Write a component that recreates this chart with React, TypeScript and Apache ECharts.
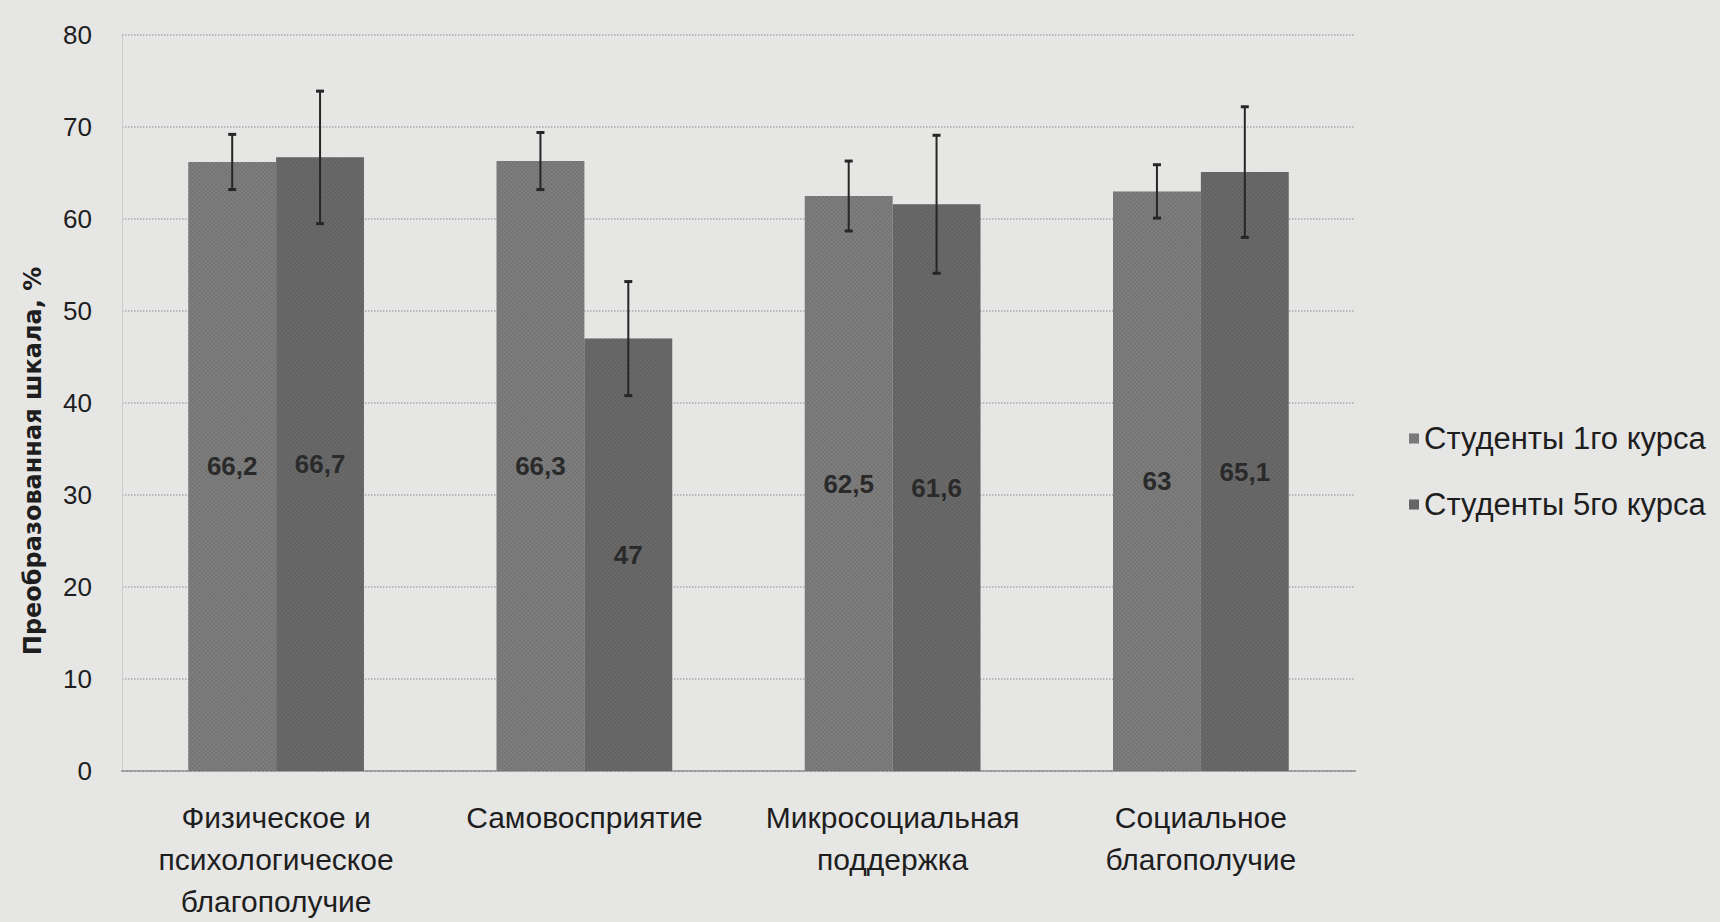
import React, { useEffect, useRef } from "react";
import * as echarts from "echarts";

const categories = [
  "Физическое и\nпсихологическое\nблагополучие",
  "Самовосприятие",
  "Микросоциальная\nподдержка",
  "Социальное\nблагополучие",
];
const seriesNames = ["Студенты 1го курса", "Студенты 5го курса"];
const course1 = [66.2, 66.3, 62.5, 63];
const course5 = [66.7, 47, 61.6, 65.1];
const err1 = [3.0, 3.1, 3.8, 2.9];
const err5 = [7.2, 6.2, 7.5, 7.1];
const yTicks = [0, 10, 20, 30, 40, 50, 60, 70, 80];

const FONT = "'Liberation Sans', Arial, sans-serif";
const CAT_GAP = 0.43;
const BAR_FRAC = (1 - CAT_GAP) / 2;

function errorSeries(vals: number[], errs: number[], offset: number) {
  return {
    type: "custom",
    z: 10,
    silent: true,
    data: vals.map((v, i) => [i, v - errs[i], v + errs[i]]),
    encode: { x: 0, y: [1, 2] },
    renderItem: (params: any, api: any) => {
      const i = api.value(0);
      const lo = api.value(1);
      const hi = api.value(2);
      const catW = api.size([1, 0])[0];
      const pHi = api.coord([i, hi]);
      const pLo = api.coord([i, lo]);
      const x = pHi[0] + offset * catW;
      const cap = 4;
      const style = { stroke: "#262626", lineWidth: 2 };
      return {
        type: "group",
        children: [
          { type: "line", shape: { x1: x, y1: pHi[1], x2: x, y2: pLo[1] }, style },
          { type: "line", shape: { x1: x - cap, y1: pHi[1], x2: x + cap, y2: pHi[1] }, style: { ...style, lineWidth: 3 } },
          { type: "line", shape: { x1: x - cap, y1: pLo[1], x2: x + cap, y2: pLo[1] }, style: { ...style, lineWidth: 3 } },
        ],
      };
    },
  };
}

const decal = {
  symbol: "circle",
  symbolSize: 0.9,
  dashArrayX: [3, 0],
  dashArrayY: [3, 0],
  rotation: Math.PI / 4,
  color: "rgba(40,40,40,0.28)",
};

export default function App() {
  const ref = useRef<HTMLDivElement>(null);
  useEffect(() => {
    if (!ref.current) return;
    const chart = echarts.init(ref.current, undefined, { renderer: "svg" });
    const labelFmt = (p: any) => String(p.value).replace(".", ",");
    const labelStyle = {
      show: true,
      position: "inside",
      formatter: labelFmt,
      fontSize: 26,
      fontWeight: "bold",
      color: "#2a2a2a",
      fontFamily: FONT,
    };
    chart.setOption({
      animation: false,
      backgroundColor: "#e6e6e5",
      textStyle: { fontFamily: FONT },
      grid: { left: 122, right: 365, top: 35, bottom: 151 },
      legend: {
        orient: "vertical",
        left: 1404,
        top: 418,
        itemWidth: 10,
        itemHeight: 10,
        itemGap: 35,
        icon: "rect",
        textStyle: { fontSize: 31, color: "#1e1e1e", fontFamily: FONT },
        data: seriesNames,
      },
      xAxis: {
        type: "category",
        data: categories,
        axisTick: { show: false },
        axisLine: { lineStyle: { color: "#9a9a9a", width: 2, type: "dotted" } },
        axisLabel: {
          fontSize: 30,
          lineHeight: 42,
          color: "#1e1e1e",
          margin: 25,
          interval: 0,
          fontFamily: FONT,
        },
      },
      yAxis: {
        type: "value",
        min: yTicks[0],
        max: yTicks[yTicks.length - 1],
        interval: 10,
        axisLine: { show: true, lineStyle: { color: "#c4c4c4", type: "dotted" } },
        axisTick: { show: false },
        axisLabel: { fontSize: 26, color: "#1e1e1e", margin: 30, fontFamily: FONT },
        splitLine: { lineStyle: { color: "#a8a8a8", type: "dotted", width: 1.5 } },
      },
      graphic: [
        {
          type: "text",
          x: 33,
          y: 461,
          rotation: Math.PI / 2,
          style: {
            text: "Преобразованная шкала, %",
            font: "bold 24px 'DejaVu Sans', sans-serif",
            fill: "#1e1e1e",
            textAlign: "center",
            textVerticalAlign: "middle",
          },
        },
      ],
      series: [
        {
          name: seriesNames[0],
          type: "bar",
          data: course1,
          barGap: "0%",
          barCategoryGap: `${CAT_GAP * 100}%`,
          itemStyle: { color: "#8a8a8a", decal },
          label: labelStyle,
        },
        {
          name: seriesNames[1],
          type: "bar",
          data: course5,
          barGap: "0%",
          barCategoryGap: `${CAT_GAP * 100}%`,
          itemStyle: { color: "#737373", decal },
          label: labelStyle,
        },
        errorSeries(course1, err1, -BAR_FRAC / 2),
        errorSeries(course5, err5, BAR_FRAC / 2),
      ],
    });
    return () => chart.dispose();
  }, []);
  return (
    <div
      ref={ref}
      style={{ position: "fixed", left: 0, top: 0, width: 1720, height: 922 }}
    />
  );
}
